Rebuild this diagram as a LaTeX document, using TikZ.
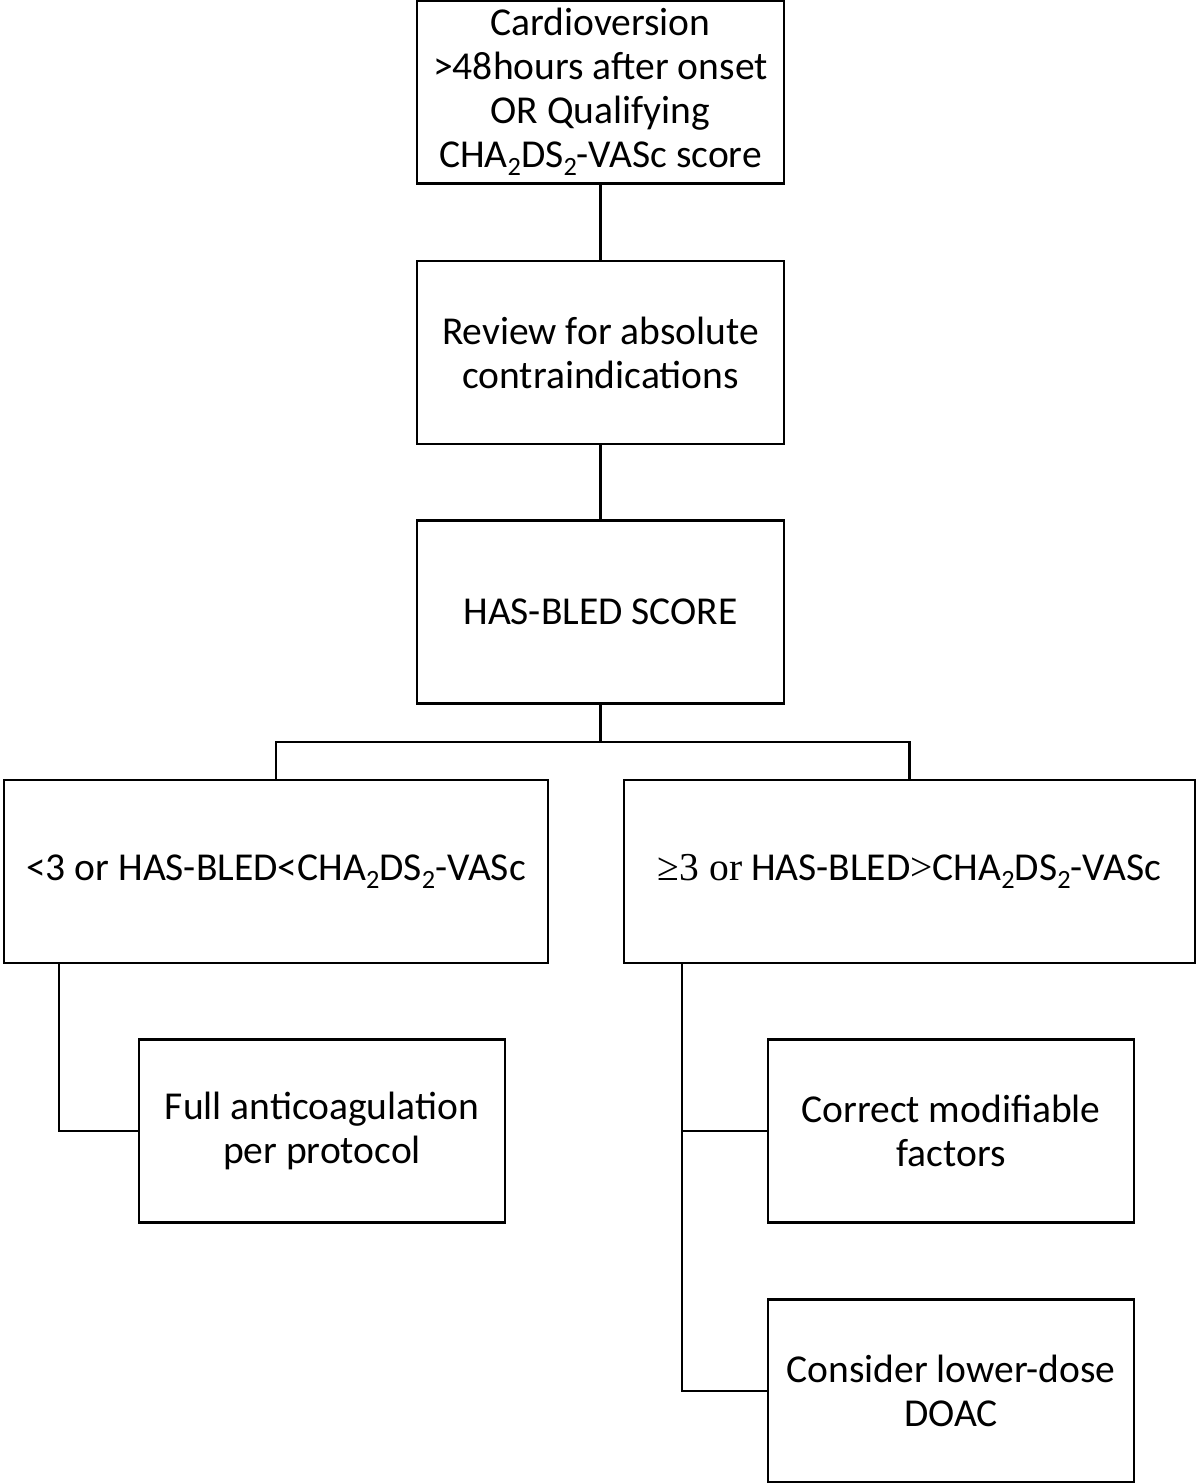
\documentclass[tikz,border=0pt]{standalone}
\usepackage{fontspec}
\setmainfont{Carlito}
\newfontfamily\timesfont{Liberation Serif}
\usetikzlibrary{positioning,calc}

\newcommand{\lowsub}[1]{\raisebox{-0.45ex}{\fontsize{15}{15}\selectfont #1}}
\newcommand{\chads}{CHA\lowsub{2}DS\lowsub{2}-VASc}

\begin{document}
\begin{tikzpicture}[
  every node/.style={align=center},
  txt/.style={font=\fontsize{22.5}{25}\selectfont},
  stepbox/.style={draw, inner sep=0pt, minimum width=7.34cm, minimum height=3.66cm,
                  line width=1.2pt, txt},
  widebox/.style={draw, inner sep=0pt, minimum height=3.66cm, line width=1.2pt, txt},
  link/.style={line width=1.2pt},
]
\useasboundingbox (0,0) rectangle (23.94,-29.66);

%% --- Column: assessment steps ---
\node[stepbox] (onset)   at (12.01, -1.84) {Cardioversion\\>48hours after onset\\OR Qualifying\\\chads{} score};
\node[stepbox] (review)  at (12.01, -7.05) {Review for absolute\\contraindications};
\node[stepbox] (hasbled) at (12.01,-12.24) {HAS-BLED SCORE};

%% --- Row: score outcome ---
\node[widebox, minimum width=10.88cm] (low)  at ( 5.52,-17.43) {<3 or HAS-BLED<\chads};
\node[widebox, minimum width=11.43cm] (high) at (18.19,-17.43) {{\timesfont ≥3 or} HAS-BLED{\timesfont >}\chads};

%% --- Actions ---
\node[stepbox, minimum width=7.32cm] (full)     at ( 6.44,-22.62) {Full anticoagulation\\per protocol};
\node[stepbox, minimum width=7.32cm] (correct)  at (19.02,-22.62) {Correct modifiable\\factors};
\node[stepbox, minimum width=7.32cm] (consider) at (19.02,-27.82) {Consider lower-dose\\DOAC};

%% --- Connectors ---
\draw[link] (onset)  -- (review);
\draw[link] (review) -- (hasbled);
\draw[link] (hasbled.south) -- ++(0,-0.74) -| (low.north);
\draw[link] (hasbled.south) -- ++(0,-0.74) -| (high.north);
\draw[link] ([xshift=1.12cm]low.south west)  |- (full.west);
\draw[link] ([xshift=1.18cm]high.south west) |- (correct.west);
\draw[link] ([xshift=1.18cm]high.south west) |- (consider.west);

\end{tikzpicture}
\end{document}
